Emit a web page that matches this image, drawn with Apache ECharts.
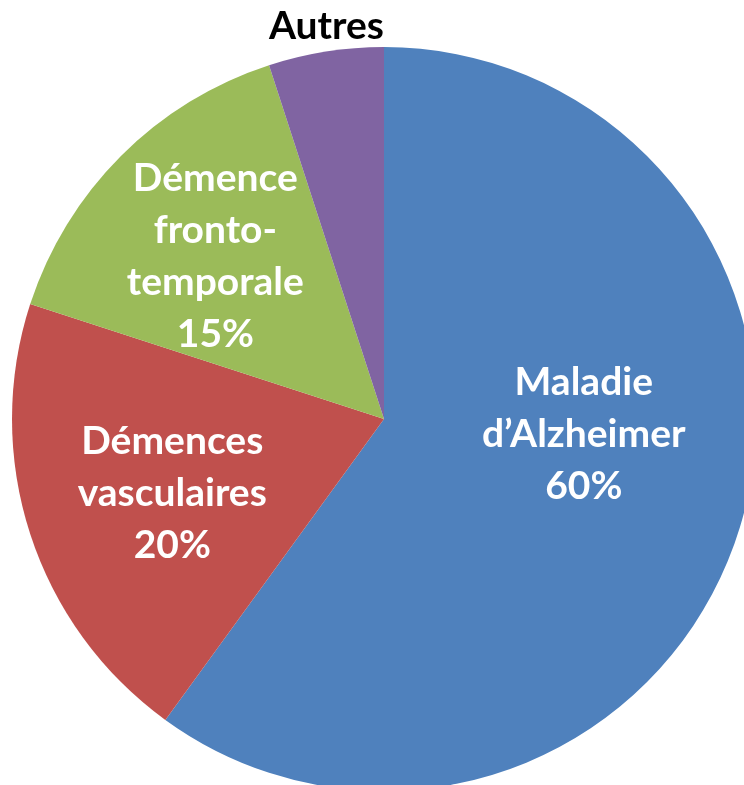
<!DOCTYPE html>
<html>
<head>
<meta charset="utf-8">
<script src="https://cdn.jsdelivr.net/npm/echarts@6/dist/echarts.min.js"></script>
<style>
  html, body { margin: 0; padding: 0; background: #fff; }
  #chart { width: 744px; height: 785px; }
</style>
</head>
<body>
<div id="chart"></div>
<script>
// data
var categories = ['Maladie\nd\u2019Alzheimer', 'Démences\nvasculaires', 'Démence\nfronto-\ntemporale', 'Autres'];
var values = [60, 20, 15, 5];
var colors = ['#4F81BD', '#C0504D', '#9BBB59', '#8064A2'];
// label nudges (px) from the default inside spot
var labelShift = [[20, -43], [-32, 16], [-35, -29], [-28, -206]];

var chart = echarts.init(document.getElementById('chart'));

var pieData = categories.map(function (name, i) {
  var item = { name: name, value: values[i], itemStyle: { color: colors[i] } };
  if (name === 'Autres') {
    item.label = { color: '#000', formatter: '{b}' };
  }
  return item;
});

chart.setOption({
  animation: false,
  series: [{
    type: 'pie',
    center: [384, 419],
    radius: 372,
    startAngle: 90,
    clockwise: true,
    data: pieData,
    label: {
      show: true,
      position: 'inside',
      formatter: '{b}\n{d}%',
      color: '#fff',
      fontFamily: 'Lato',
      fontWeight: 'bold',
      fontSize: 39,
      lineHeight: 52,
      align: 'center'
    },
    labelLine: { show: false },
    labelLayout: function (p) {
      var s = labelShift[p.dataIndex];
      return { dx: s[0], dy: s[1] };
    },
    emphasis: { disabled: true }
  }]
});
</script>
</body>
</html>
